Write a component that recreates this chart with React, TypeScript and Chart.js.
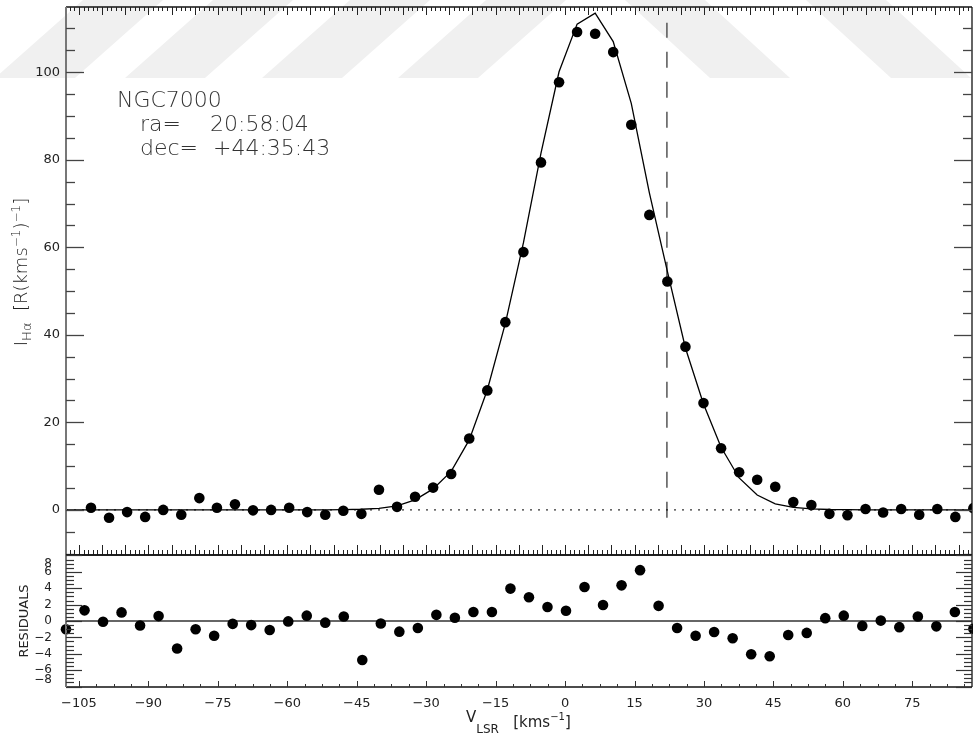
import React, { useEffect, useRef } from 'react';
import { Chart, registerables } from 'chart.js';

Chart.register(...registerables);

const FONT = '"DejaVu Sans", sans-serif';

// ---- data ----
const velocity = [-102.4, -98.5, -94.6, -90.7, -86.8, -82.9, -79.0, -75.2, -71.3, -67.4, -63.5, -59.6, -55.7, -51.8, -47.9, -44.0, -40.2, -36.3, -32.4, -28.5, -24.6, -20.7, -16.8, -12.9, -9.0, -5.2, -1.3, 2.6, 6.5, 10.4, 14.3, 18.2, 22.1, 26.0, 29.9, 33.7, 37.6, 41.5, 45.4, 49.3, 53.2, 57.1, 61.0, 64.9, 68.7, 72.6, 76.5, 80.4, 84.3, 88.2];
const intensity = [0.5, -1.8, -0.5, -1.6, 0.0, -1.1, 2.7, 0.5, 1.3, -0.1, 0.0, 0.5, -0.5, -1.1, -0.2, -0.9, 4.6, 0.7, 3.0, 5.1, 8.2, 16.3, 27.3, 42.9, 58.9, 79.4, 97.7, 109.2, 108.8, 104.6, 88.0, 67.4, 52.2, 37.3, 24.4, 14.1, 8.6, 6.9, 5.3, 1.8, 1.1, -0.9, -1.2, 0.2, -0.6, 0.2, -1.1, 0.2, -1.6, 0.4];
const modelVelocity = [-107.8, -102.4, -98.5, -94.6, -90.7, -86.8, -82.9, -79.0, -75.2, -71.3, -67.4, -63.5, -59.6, -55.7, -51.8, -47.9, -44.0, -40.2, -36.3, -32.4, -28.5, -24.6, -20.7, -16.8, -12.9, -9.0, -5.2, -1.3, 2.6, 6.5, 10.4, 14.3, 18.2, 22.1, 26.0, 29.9, 33.7, 37.6, 41.5, 45.4, 49.3, 53.2, 57.1, 61.0, 64.9, 68.7, 72.6, 76.5, 80.4, 84.3, 88.2];
const modelIntensity = [0, 0, 0, 0, 0, 0, 0, 0, 0, 0, 0, 0, 0, 0, 0, 0.05, 0.15, 0.35, 0.9, 2.3, 4.8, 8.8, 16.0, 27.4, 42.6, 61.0, 81.5, 100.1, 111.0, 113.5, 107.0, 92.9, 72.5, 54.5, 37.0, 24.2, 14.3, 7.3, 3.4, 1.4, 0.6, 0.25, 0.1, 0.05, 0, 0, 0, 0, 0, 0, 0];
const residualVelocity = [-107.8, -103.8, -99.8, -95.8, -91.8, -87.8, -83.8, -79.8, -75.8, -71.8, -67.8, -63.8, -59.8, -55.8, -51.8, -47.8, -43.8, -39.8, -35.8, -31.8, -27.8, -23.8, -19.8, -15.8, -11.8, -7.8, -3.8, 0.2, 4.2, 8.2, 12.2, 16.2, 20.2, 24.2, 28.2, 32.2, 36.2, 40.2, 44.2, 48.2, 52.2, 56.2, 60.2, 64.2, 68.2, 72.2, 76.2, 80.2, 84.2, 88.2];
const residual = [-1.0, 1.3, -0.1, 1.05, -0.55, 0.6, -3.35, -1.0, -1.8, -0.35, -0.5, -1.1, -0.05, 0.65, -0.2, 0.55, -4.75, -0.3, -1.3, -0.85, 0.75, 0.4, 1.1, 1.1, 3.95, 2.9, 1.7, 1.25, 4.15, 1.95, 4.35, 6.2, 1.85, -0.85, -1.8, -1.35, -2.1, -4.05, -4.3, -1.7, -1.45, 0.35, 0.65, -0.6, 0.05, -0.75, 0.55, -0.65, 1.1, -0.95];
const centroidVelocity = 22.0;

const xTickLabels = [-105, -90, -75, -60, -45, -30, -15, 0, 15, 30, 45, 60, 75];
const yTickLabels = [0, 20, 40, 60, 80, 100];
const residualTickLabels = [-8, -6, -4, -2, 0, 2, 4, 6, 8];

const vMin = -107.8;
const vMax = 87.9;
const iMin = -10.3;
const iMax = 114.9;
const rMin = -8.05;
const rMax = 8.05;

const annotation = ['NGC7000', 'ra=', '20:58:04', 'dec=', '+44:35:43'];

// ---- helpers ----
const fmt = (v: number) => (v < 0 ? '\u2212' + Math.abs(v) : String(v));

function seg(ctx: CanvasRenderingContext2D, x1: number, y1: number, x2: number, y2: number) {
  ctx.beginPath();
  ctx.moveTo(x1, y1);
  ctx.lineTo(x2, y2);
  ctx.stroke();
}

type Seg = { t: string; size: number; dy?: number };
function drawRich(ctx: CanvasRenderingContext2D, segs: Seg[], x: number, y: number, center: boolean, weight = 'normal') {
  let total = 0;
  const widths = segs.map((s) => {
    ctx.font = `${weight} ${s.size}px ${FONT}`;
    const w = ctx.measureText(s.t).width;
    total += w;
    return w;
  });
  let cx = center ? x - total / 2 : x;
  ctx.textAlign = 'left';
  ctx.textBaseline = 'alphabetic';
  segs.forEach((s, i) => {
    ctx.font = `${weight} ${s.size}px ${FONT}`;
    ctx.fillText(s.t, cx, y + (s.dy || 0));
    cx += widths[i];
  });
}

const topPanelPlugin = {
  id: 'topPanel',
  beforeDraw(chart: any) {
    const ctx: CanvasRenderingContext2D = chart.ctx;
    ctx.save();
    ctx.fillStyle = '#f0f0f0';
    const h = 78;
    [-5, 125, 262, 398].forEach((bx) => {
      ctx.beginPath();
      ctx.moveTo(bx, h);
      ctx.lineTo(bx + 80, h);
      ctx.lineTo(bx + 80 + 88, 0);
      ctx.lineTo(bx + 88, 0);
      ctx.closePath();
      ctx.fill();
    });
    [625, 806].forEach((tx) => {
      ctx.beginPath();
      ctx.moveTo(tx, 0);
      ctx.lineTo(tx + 80, 0);
      ctx.lineTo(tx + 80 + 85, h);
      ctx.lineTo(tx + 85, h);
      ctx.closePath();
      ctx.fill();
    });
    ctx.restore();
  },
  afterDraw(chart: any) {
    const ctx: CanvasRenderingContext2D = chart.ctx;
    const a = chart.chartArea;
    const x = chart.scales.x;
    const y = chart.scales.y;
    ctx.save();
    // frame
    ctx.strokeStyle = '#111';
    ctx.lineWidth = 1.3;
    seg(ctx, a.left, a.top, a.right, a.top);
    seg(ctx, a.right, a.top, a.right, a.bottom);
    ctx.lineWidth = 1.6;
    seg(ctx, a.left, a.bottom, a.right, a.bottom);
    ctx.strokeStyle = '#777';
    ctx.lineWidth = 2;
    seg(ctx, a.left, a.top, a.left, a.bottom);
    // x ticks (top + bottom, inward)
    ctx.strokeStyle = '#222';
    ctx.lineWidth = 1;
    for (let v = Math.ceil(x.min); v <= x.max; v++) {
      const px = Math.round(x.getPixelForValue(v)) + 0.5;
      const major = v % 5 === 0;
      seg(ctx, px, a.top, px, a.top + (major ? 8 : 4));
      seg(ctx, px, a.bottom, px, a.bottom - (major ? 10 : 5));
    }
    // y ticks (left + right, inward)
    ctx.strokeStyle = '#444';
    ctx.lineWidth = 1.3;
    for (let v = Math.ceil(y.min / 5) * 5; v <= y.max; v += 5) {
      const py = Math.round(y.getPixelForValue(v)) + 0.5;
      const len = v % 20 === 0 ? 18 : 9;
      seg(ctx, a.left, py, a.left + len, py);
      seg(ctx, a.right, py, a.right - len, py);
    }
    // annotation
    ctx.fillStyle = '#333';
    ctx.textAlign = 'left';
    ctx.textBaseline = 'alphabetic';
    ctx.font = `200 22px ${FONT}`;
    ctx.fillText(annotation[0], a.left + 51, 107);
    ctx.fillText(annotation[1], a.left + 74, 131);
    ctx.fillText(annotation[2], a.left + 144, 131);
    ctx.fillText(annotation[3], a.left + 74, 155);
    ctx.fillText(annotation[4], a.left + 147, 155);
    // y title
    ctx.save();
    ctx.translate(27, 272);
    ctx.rotate(-Math.PI / 2);
    ctx.fillStyle = '#222';
    drawRich(
      ctx,
      [
        { t: 'I', size: 18 },
        { t: 'H\u03b1', size: 13, dy: 4 },
        { t: '  [R(kms', size: 18 },
        { t: '\u22121', size: 12, dy: -7 },
        { t: ')', size: 18 },
        { t: '\u22121', size: 12, dy: -7 },
        { t: ']', size: 18 },
      ],
      0,
      0,
      true,
      '300'
    );
    ctx.restore();
    ctx.restore();
  },
};

const residualPanelPlugin = {
  id: 'residualPanel',
  beforeDatasetsDraw(chart: any) {
    const ctx: CanvasRenderingContext2D = chart.ctx;
    const a = chart.chartArea;
    const y = chart.scales.y;
    ctx.save();
    ctx.strokeStyle = '#666';
    ctx.lineWidth = 2;
    const py = y.getPixelForValue(0);
    seg(ctx, a.left, py, a.right, py);
    ctx.restore();
  },
  afterDraw(chart: any) {
    const ctx: CanvasRenderingContext2D = chart.ctx;
    const a = chart.chartArea;
    const x = chart.scales.x;
    const y = chart.scales.y;
    ctx.save();
    ctx.strokeStyle = '#111';
    ctx.lineWidth = 1.6;
    seg(ctx, a.left, a.top, a.right, a.top);
    ctx.lineWidth = 1.3;
    seg(ctx, a.right, a.top, a.right, a.bottom);
    seg(ctx, a.left, a.bottom, a.right, a.bottom);
    ctx.strokeStyle = '#777';
    ctx.lineWidth = 2;
    seg(ctx, a.left, a.top, a.left, a.bottom);
    // y ticks
    ctx.strokeStyle = '#333';
    ctx.lineWidth = 1.2;
    for (let v = -8; v <= 8; v += 0.5) {
      const py = Math.round(y.getPixelForValue(v)) + 0.5;
      const len = v % 2 === 0 ? 16 : 8;
      seg(ctx, a.left, py, a.left + len, py);
      seg(ctx, a.right, py, a.right - len, py);
    }
    // bottom x ticks
    ctx.lineWidth = 1;
    for (let v = xTickLabels[0]; v <= x.max; v += 3.75) {
      const px = Math.round(x.getPixelForValue(v)) + 0.5;
      const major = Math.abs((v - xTickLabels[0]) % 15) < 1e-6;
      seg(ctx, px, a.bottom, px, a.bottom - (major ? 6 : 3));
    }
    // end labels of the residual axis, pushed inward
    ctx.fillStyle = '#222';
    ctx.font = `12px ${FONT}`;
    ctx.textAlign = 'right';
    ctx.textBaseline = 'middle';
    const top = residualTickLabels[residualTickLabels.length - 1];
    const bot = residualTickLabels[0];
    ctx.fillText(fmt(top), a.left - 14, y.getPixelForValue(top) + 8);
    ctx.fillText(fmt(bot), a.left - 14, y.getPixelForValue(bot) - 7);
    // RESIDUALS title
    ctx.save();
    ctx.translate(28, (a.top + a.bottom) / 2);
    ctx.rotate(-Math.PI / 2);
    ctx.font = `13px ${FONT}`;
    ctx.textAlign = 'center';
    ctx.textBaseline = 'alphabetic';
    ctx.fillText('RESIDUALS', 0, 0);
    ctx.restore();
    // x title
    drawRich(
      ctx,
      [
        { t: 'V', size: 15, dy: -5 },
        { t: 'LSR', size: 12, dy: 6 },
        { t: '   [kms', size: 15 },
        { t: '\u22121', size: 10, dy: -7 },
        { t: ']', size: 15 },
      ],
      466,
      a.bottom + 40,
      false
    );
    ctx.restore();
  },
};

export default function App() {
  const topRef = useRef<HTMLCanvasElement>(null);
  const botRef = useRef<HTMLCanvasElement>(null);

  useEffect(() => {
    const tickFont = { family: FONT, size: 13 };
    const top = new Chart(topRef.current as HTMLCanvasElement, {
      type: 'scatter',
      data: {
        datasets: [
          {
            label: 'H\u03b1 intensity',
            data: velocity.map((v, i) => ({ x: v, y: intensity[i] })),
            showLine: false,
            pointRadius: 5.3,
            pointHoverRadius: 5.3,
            pointBackgroundColor: '#000',
            pointBorderWidth: 0,
            borderWidth: 0,
          },
          {
            label: 'fit',
            data: modelVelocity.map((v, i) => ({ x: v, y: modelIntensity[i] })),
            showLine: true,
            pointRadius: 0,
            borderColor: '#000',
            borderWidth: 1.3,
            tension: 0,
          },
          {
            label: 'zero',
            data: [
              { x: vMin, y: 0 },
              { x: vMax, y: 0 },
            ],
            showLine: true,
            pointRadius: 0,
            borderColor: '#000',
            borderWidth: 1,
            borderDash: [2, 6],
          },
          {
            label: 'centroid',
            data: [
              { x: centroidVelocity, y: -1.8 },
              { x: centroidVelocity, y: 111.3 },
            ],
            showLine: true,
            pointRadius: 0,
            borderColor: '#555',
            borderWidth: 1.5,
            borderDash: [16, 14],
          },
        ],
      },
      options: {
        animation: false,
        responsive: false,
        devicePixelRatio: 1,
        events: [],
        layout: { autoPadding: false, padding: { left: 0, right: 1, top: 7, bottom: 1 } },
        plugins: { legend: { display: false }, tooltip: { enabled: false } },
        scales: {
          x: { type: 'linear', min: vMin, max: vMax, display: false },
          y: {
            type: 'linear',
            min: iMin,
            max: iMax,
            position: 'left',
            grid: { display: false, drawTicks: false },
            border: { display: false },
            ticks: { font: tickFont, color: '#222', padding: 6 },
            afterBuildTicks: (s: any) => {
              s.ticks = yTickLabels.map((v) => ({ value: v }));
            },
            afterFit: (s: any) => {
              s.width = 66;
              s.paddingTop = 0;
              s.paddingBottom = 0;
            },
          },
        },
      } as any,
      plugins: [topPanelPlugin],
    });

    const bottom = new Chart(botRef.current as HTMLCanvasElement, {
      type: 'scatter',
      data: {
        datasets: [
          {
            label: 'residuals',
            data: residualVelocity.map((v, i) => ({ x: v, y: residual[i] })),
            pointRadius: 5.3,
            pointHoverRadius: 5.3,
            pointBackgroundColor: '#000',
            pointBorderWidth: 0,
            borderWidth: 0,
            clip: false,
          } as any,
        ],
      },
      options: {
        animation: false,
        responsive: false,
        devicePixelRatio: 1,
        events: [],
        layout: { autoPadding: false, padding: { left: 0, right: 1, top: 15, bottom: 0 } },
        plugins: { legend: { display: false }, tooltip: { enabled: false } },
        scales: {
          x: {
            type: 'linear',
            min: vMin,
            max: vMax,
            position: 'bottom',
            grid: { display: false, drawTicks: false },
            border: { display: false },
            ticks: { font: tickFont, color: '#222', padding: 9, maxRotation: 0, autoSkip: false, callback: (v: any) => fmt(Number(v)) },
            afterBuildTicks: (s: any) => {
              s.ticks = xTickLabels.map((v) => ({ value: v }));
            },
            afterFit: (s: any) => {
              s.height = 53;
              s.paddingLeft = 0;
              s.paddingRight = 0;
            },
          },
          y: {
            type: 'linear',
            min: rMin,
            max: rMax,
            position: 'left',
            grid: { display: false, drawTicks: false },
            border: { display: false },
            ticks: { font: { family: FONT, size: 12 }, color: '#222', padding: 14, callback: (v: any) => fmt(Number(v)) },
            afterBuildTicks: (s: any) => {
              s.ticks = residualTickLabels.filter((v) => Math.abs(v) < 8).map((v) => ({ value: v }));
            },
            afterFit: (s: any) => {
              s.width = 66;
              s.paddingTop = 0;
              s.paddingBottom = 0;
            },
          },
        },
      } as any,
      plugins: [residualPanelPlugin],
    });

    return () => {
      top.destroy();
      bottom.destroy();
    };
  }, []);

  return (
    <div style={{ position: 'absolute', left: 0, top: 0, width: 973, height: 740, background: '#fff', overflow: 'hidden' }}>
      <canvas ref={topRef} width={973} height={556} style={{ position: 'absolute', left: 0, top: 0, display: 'block' }} />
      <canvas ref={botRef} width={973} height={200} style={{ position: 'absolute', left: 0, top: 540, display: 'block' }} />
    </div>
  );
}
